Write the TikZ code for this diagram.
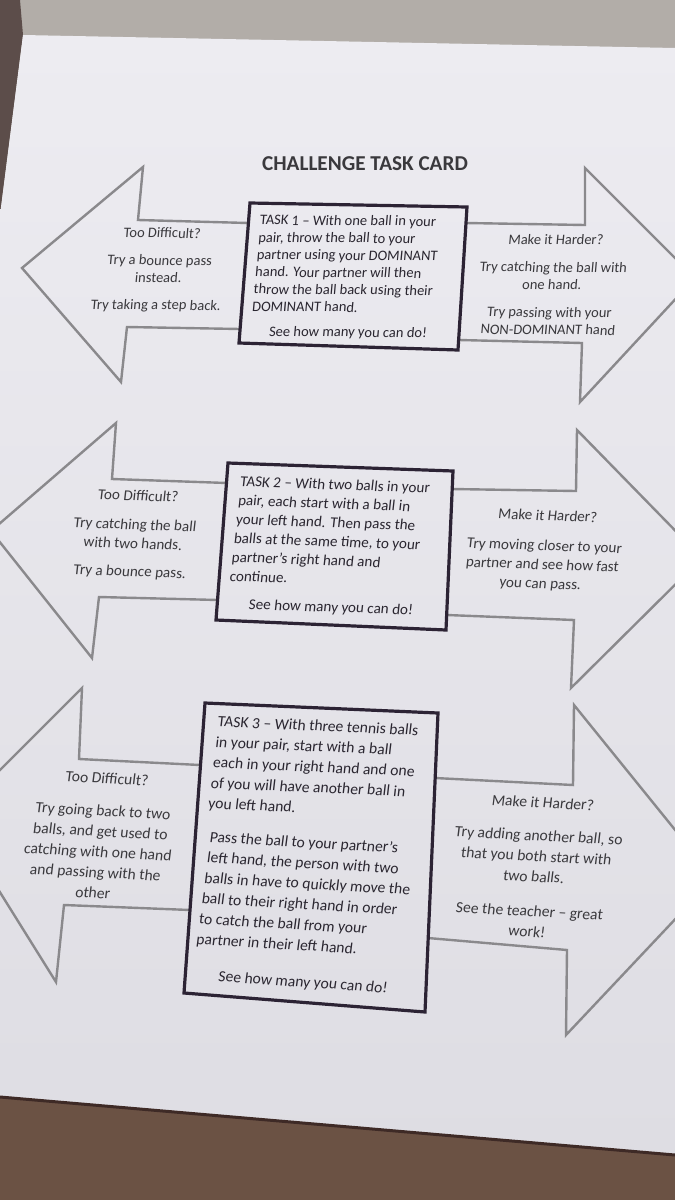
\documentclass[tikz,border=0pt]{standalone}
\usepackage{fontspec}
\setmainfont{Carlito}
\definecolor{bgtop}{HTML}{B2ADA8}
\definecolor{bgdark}{HTML}{5C4D4A}
\definecolor{papertop}{HTML}{EDECF1}
\definecolor{paperbot}{HTML}{DEDDE3}
\definecolor{wood}{HTML}{6B5244}
\definecolor{woodedge}{HTML}{3E2A26}
\definecolor{arrowgray}{HTML}{8A898C}
\definecolor{boxink}{HTML}{2C2334}
\definecolor{ink}{HTML}{3A393D}
\definecolor{boxtext}{HTML}{2A2630}
\begin{document}
\begin{tikzpicture}[x=1pt,y=-1pt,
  arrowline/.style={draw=arrowgray, line width=2.4pt, line join=miter},
  taskbox/.style={draw=boxink, line width=3.2pt, line join=miter},
  sidetext/.style={align=center, inner sep=0pt, text=ink},
  paratext/.style={align=left, inner sep=0pt, text=boxtext, anchor=west},
  foottext/.style={inner sep=0pt, text=boxtext},
  rowone/.style={font=\fontsize{14.5}{17.3}\selectfont, rotate=-0.5, xslant=0.08},
  rowtwo/.style={font=\fontsize{15.1}{19}\selectfont, rotate=-2, xslant=0.076},
  rowthree/.style={font=\fontsize{15.6}{20.6}\selectfont, rotate=-3, xslant=0.072},
  titletext/.style={font=\fontsize{21.2}{24}\selectfont\bfseries, text=ink, inner sep=0pt}
]
\useasboundingbox (0,0) rectangle (675,1200);
\clip (0,0) rectangle (675,1200);
% background and paper
\fill[bgtop] (0,0) rectangle (675,1200);
\fill[bgdark] (0,0) -- (20,0) -- (23,35) -- (0,215) -- cycle;
\shade[top color=papertop, bottom color=paperbot] (23,35) -- (675,48) -- (675,1155) -- (0,1097) -- (0,215) -- cycle;
\fill[wood] (0,1097) -- (675,1155) -- (675,1200) -- (0,1200) -- cycle;
\draw[woodedge, line width=3pt] (0,1097) -- (675,1155);

% title
\node[titletext] (title) at (365,164) {CHALLENGE TASK CARD};

% ---------- row 1 ----------
\coordinate (b1tl) at (250,203);
\coordinate (b1tr) at (467,207);
\coordinate (b1br) at (458,350);
\coordinate (b1bl) at (239,343);
\coordinate (l1a) at (248,223);
\coordinate (l1b) at (138,220);
\coordinate (l1c) at (143,167);
\coordinate (l1d) at (22,268);
\coordinate (l1e) at (121,382);
\coordinate (l1f) at (127,327);
\coordinate (l1g) at (240,329);
\coordinate (r1a) at (466,223);
\coordinate (r1b) at (585,225);
\coordinate (r1c) at (585,168);
\coordinate (r1d) at (695,278);
\coordinate (r1e) at (580,402);
\coordinate (r1f) at (582,343);
\coordinate (r1g) at (459,340);
\draw[arrowline] (l1a) -- (l1b) -- (l1c) -- (l1d) -- (l1e) -- (l1f) -- (l1g);
\draw[arrowline] (r1a) -- (r1b) -- (r1c) -- (r1d) -- (r1e) -- (r1f) -- (r1g);
\draw[taskbox] (b1tl) -- (b1tr) -- (b1br) -- (b1bl) -- cycle;
\node[sidetext, rowone] (easy1) at (159,270) {Too Difficult?\\[10pt]Try a bounce pass\\instead.\\[10pt]Try taking a step back.};
\node[sidetext, rowone] (hard1) at (552,284.5) {Make it Harder?\\[10.5pt]Try catching the ball with\\one hand.\\[10.5pt]Try passing with your\\NON-DOMINANT hand};
\node[paratext, rowone] (task1) at (256,263) {TASK 1 – With one ball in your\\pair, throw the ball to your\\partner using your DOMINANT\\hand. Your partner will then\\throw the ball back using their\\DOMINANT hand.};
\node[foottext, rowone] (see1) at (348,333) {See how many you can do!};

% ---------- row 2 ----------
\coordinate (b2tl) at (228,463);
\coordinate (b2tr) at (453,471);
\coordinate (b2br) at (446,630);
\coordinate (b2bl) at (216,620);
\coordinate (l2a) at (227,483);
\coordinate (l2b) at (112,479);
\coordinate (l2c) at (116,423);
\coordinate (l2d) at (-9,531);
\coordinate (l2e) at (92,658);
\coordinate (l2f) at (99,597);
\coordinate (l2g) at (218,600);
\coordinate (r2a) at (452,489);
\coordinate (r2b) at (576,491);
\coordinate (r2c) at (577,430);
\coordinate (r2d) at (702,558);
\coordinate (r2e) at (571,688);
\coordinate (r2f) at (574,620);
\coordinate (r2g) at (447,615);
\draw[arrowline] (l2a) -- (l2b) -- (l2c) -- (l2d) -- (l2e) -- (l2f) -- (l2g);
\draw[arrowline] (r2a) -- (r2b) -- (r2c) -- (r2d) -- (r2e) -- (r2f) -- (r2g);
\draw[taskbox] (b2tl) -- (b2tr) -- (b2br) -- (b2bl) -- cycle;
\node[sidetext, rowtwo] (easy2) at (134,534.5) {Too Difficult?\\[10pt]Try catching the ball\\with two hands.\\[9pt]Try a bounce pass.};
\node[sidetext, rowtwo] (hard2) at (544,550.5) {Make it Harder?\\[11pt]Try moving closer to your\\partner and see how fast\\you can pass.};
\node[paratext, rowtwo] (task2) at (235,528.5) {TASK 2 – With two balls in your\\pair, each start with a ball in\\your left hand. Then pass the\\balls at the same time, to your\\partner’s right hand and\\continue.};
\node[foottext, rowtwo] (see2) at (331,608) {See how many you can do!};

% ---------- row 3 ----------
\coordinate (b3tl) at (205,703);
\coordinate (b3tr) at (438,713);
\coordinate (b3br) at (425,1012);
\coordinate (b3bl) at (184,993);
\coordinate (l3a) at (200,765);
\coordinate (l3b) at (79,759);
\coordinate (l3c) at (82,688);
\coordinate (l3d) at (-47,817);
\coordinate (l3e) at (56,982);
\coordinate (l3f) at (64,905);
\coordinate (l3g) at (190,910);
\coordinate (r3a) at (435,778);
\coordinate (r3b) at (573,785);
\coordinate (r3c) at (574,705);
\coordinate (r3d) at (714,878);
\coordinate (r3e) at (566,1035);
\coordinate (r3f) at (567,950);
\coordinate (r3g) at (428,938);
\draw[arrowline] (l3a) -- (l3b) -- (l3c) -- (l3d) -- (l3e) -- (l3f) -- (l3g);
\draw[arrowline] (r3a) -- (r3b) -- (r3c) -- (r3d) -- (r3e) -- (r3f) -- (r3g);
\draw[taskbox] (b3tl) -- (b3tr) -- (b3br) -- (b3bl) -- cycle;
\node[sidetext, rowthree] (easy3) at (100,835.5) {Too Difficult?\\[12pt]Try going back to two\\balls, and get used to\\catching with one hand\\and passing with the\\other};
\node[sidetext, rowthree] (hard3) at (535,867) {Make it Harder?\\[12.5pt]Try adding another ball, so\\that you both start with\\two balls.\\[14pt]See the teacher – great\\work!};
\node[paratext, rowthree, rotate=0.5] (task3a) at (213,763.5) {TASK 3 – With three tennis balls\\in your pair, start with a ball\\each in your right hand and one\\of you will have another ball in\\you left hand.};
\node[paratext, rowthree, rotate=-0.3] (task3b) at (203,889) {Pass the ball to your partner’s\\left hand, the person with two\\balls in have to quickly move the\\ball to their right hand in order\\to catch the ball from your\\partner in their left hand.};
\node[foottext, rowthree, rotate=-1] (see3) at (303,983) {See how many you can do!};
\end{tikzpicture}
\end{document}
